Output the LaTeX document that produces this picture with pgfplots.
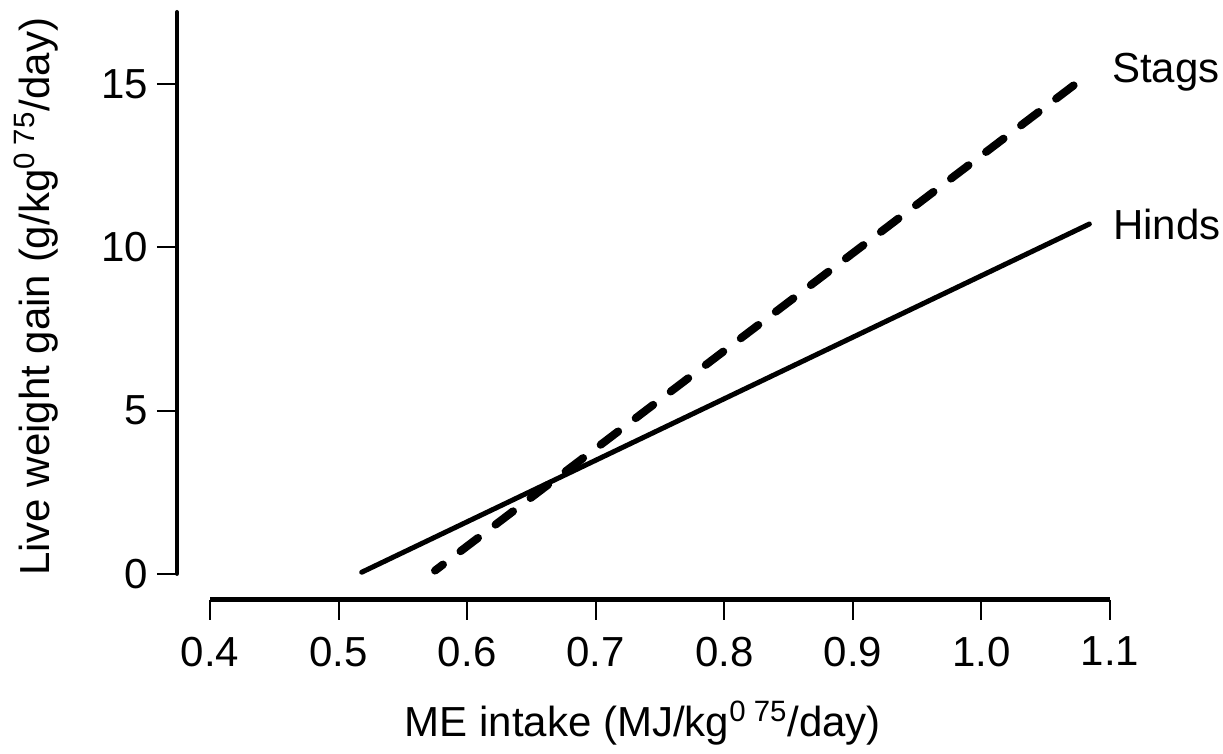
\documentclass[border=0pt]{standalone}
\usepackage{fontspec}
\setmainfont{Liberation Sans}
\usepackage{pgfplots}
\pgfplotsset{compat=1.18}
\begin{document}
\begin{tikzpicture}
\path[use as bounding box] (-88.5pt,-77pt) rectangle (523pt,300pt);
\begin{axis}[
  scale only axis,
  width=466.5pt, height=294pt,
  xmin=0.3743, xmax=1.1,
  ymin=-0.8, ymax=17.2,
  clip=false,
  axis line style={draw=none},
  font=\fontsize{21}{25}\selectfont,
  xtick={0.4,0.5,0.6,0.7,0.8,0.9,1.0,1.1},
  ytick={0,5,10,15},
  xtick pos=bottom, ytick pos=left,
  tick align=outside,
  major tick length=10pt,
  every tick/.style={black, line width=1pt},
  /pgf/number format/assume math mode=true,
  xticklabel style={/pgf/number format/fixed, /pgf/number format/fixed zerofill, /pgf/number format/precision=1, yshift=-5pt},
  yticklabel style={xshift=-1pt},
]
% axis lines (detached, R style)
\draw[line width=2pt, line cap=round] (axis cs:0.3743,0) -- (axis cs:0.3743,17.2);
\draw[line width=2.5pt] (axis cs:0.4,-0.8) -- (axis cs:1.1,-0.8);

% Hinds (solid)
\addplot[black, line width=2.5pt, line cap=round] coordinates {(0.518,0.05) (1.084,10.71)};
% Stags (dashed)
\addplot[black, line width=4pt, line cap=round, dash pattern=on 11pt off 11pt, dash phase=6pt] coordinates {(0.575,0.1) (1.080,15.2)};

\node[anchor=west, inner sep=0pt] at (axis cs:1.1014,15.35) {Stags};
\node[anchor=west, inner sep=0pt] at (axis cs:1.1022,10.7) {Hinds};

\node[inner sep=0pt] at (axis cs:0.7367,-4.56) {ME intake (MJ/kg\textsuperscript{0 75}/day)};
\node[inner sep=0pt, rotate=90] at (axis cs:0.2647,8.48) {Live weight gain (g/kg\textsuperscript{0 75}/day)};
\end{axis}
\end{tikzpicture}
\end{document}
